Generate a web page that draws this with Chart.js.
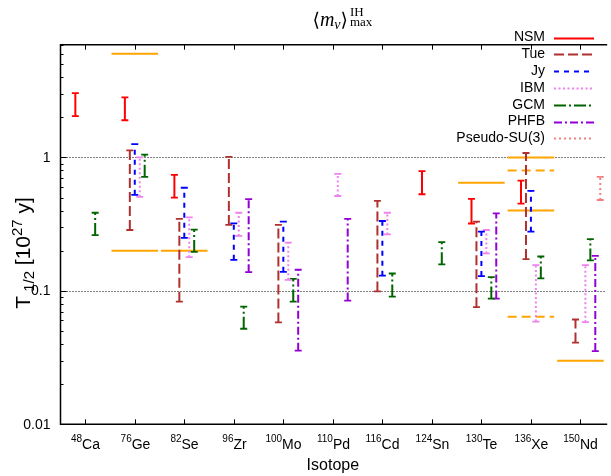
<!DOCTYPE html>
<html>
<head>
<meta charset="utf-8">
<script src="https://cdn.jsdelivr.net/npm/chart.js@4.4.1/dist/chart.umd.min.js"></script>
<style>
  html, body { margin: 0; padding: 0; background: #fff; }
  #wrap { width: 611px; height: 476px; position: relative; }
</style>
</head>
<body>
<div id="wrap"><canvas id="chart"></canvas></div>
<script>
// --- Data (half-life ranges in 10^27 y, [low, high], null = no value) ---
const isotopes = ["Ca", "Ge", "Se", "Zr", "Mo", "Pd", "Cd", "Sn", "Te", "Xe", "Nd"];
const massNumbers = ["48", "76", "82", "96", "100", "110", "116", "124", "130", "136", "150"];
const yTickValues = [0.01, 0.1, 1];
const yTickLabels = ["0.01", "0.1", "1"];

const nsm  = [[2.04, 3.04], [1.90, 2.82], [0.50, 0.74], null, null, null, null, [0.53, 0.79], [0.32, 0.49], [0.45, 0.67], null];
const tue  = [null, [0.286, 1.13], [0.083, 0.347], [0.312, 1.01], [0.058, 0.312], null, [0.099, 0.473], null, [0.0755, 0.33], [0.173, 1.08], [0.041, 0.061]];
const jy   = [null, [0.525, 1.26], [0.25, 0.593], [0.171, 0.321], [0.139, 0.33], null, [0.13, 0.334], null, [0.129, 0.278], [0.278, 0.562], null];
const ibm  = [null, [0.507, 1.0], [0.179, 0.356], [0.258, 0.385], [0.121, 0.23], [0.514, 0.754], [0.265, 0.385], null, [0.191, 0.286], [0.0589, 0.156], [0.0583, 0.156]];
const gcm  = [[0.262, 0.385], [0.716, 1.05], [0.196, 0.288], [0.052, 0.0763], [0.0832, 0.123], null, [0.0906, 0.135], [0.158, 0.232], [0.0875, 0.127], [0.124, 0.181], [0.169, 0.244]];
const phfb = [null, null, null, [0.138, 0.488], [0.0356, 0.144], [0.0846, 0.347], null, null, [0.0875, 0.381], null, [0.0354, 0.183]];
const psu3 = [null, null, null, null, null, null, null, null, null, null, [0.48, 0.716]];

// experimental limits (orange)
const limitSolidIso = ["Ge", "Ge", "Se", "Te", "Xe", "Xe", "Nd"];
const limitSolidVal = [6.0, 0.2, 0.2, 0.646, 1.0, 0.4, 0.03];
const limitDashIso = ["Xe", "Xe"];
const limitDashVal = [0.8, 0.064];

// --- Styles ---
const models = [
  { name: "NSM",          data: nsm,  color: "#ff0000", dash: [],             off: -0.2 },
  { name: "Tue",          data: tue,  color: "#b03030", dash: [10, 4],        off: -0.1 },
  { name: "Jy",           data: jy,   color: "#0000ff", dash: [5, 5],         off: 0 },
  { name: "IBM",          data: ibm,  color: "#ee82ee", dash: [2, 2.5],       off: 0.1 },
  { name: "GCM",          data: gcm,  color: "#006400", dash: [12, 3, 2, 3],  off: 0.2 },
  { name: "PHFB",         data: phfb, color: "#9400d3", dash: [8, 3, 2, 3],   off: 0.3 },
  { name: "Pseudo-SU(3)", data: psu3, color: "#f08080", dash: [2, 3],         off: 0.4 },
];
const ORANGE = "#ffa500";
const SANS = "'Liberation Sans', Arial, sans-serif";
const SERIF = "'Liberation Serif', 'DejaVu Serif', serif";

function barPoints(ranges, off) {
  const pts = [];
  ranges.forEach((r, i) => {
    if (!r) return;
    const x = i + 1 + off;
    pts.push({ x, y: r[0] }, { x, y: r[1] }, { x, y: null });
  });
  return pts;
}

function limitPoints(isos, vals) {
  const pts = [];
  isos.forEach((iso, k) => {
    const c = isotopes.indexOf(iso) + 1;
    pts.push({ x: c - 0.47, y: vals[k] }, { x: c + 0.47, y: vals[k] }, { x: c, y: null });
  });
  return pts;
}

const datasets = models.map((m) => ({
  label: m.name,
  data: barPoints(m.data, m.off),
  borderColor: m.color,
  borderWidth: 2,
  borderDash: m.dash,
  pointStyle: "line",
  pointRadius: 3.5,
  pointBorderColor: m.color,
  pointBorderWidth: 1.8,
  fill: false,
  spanGaps: false,
}));
datasets.push({
  label: "limit", data: limitPoints(limitSolidIso, limitSolidVal),
  borderColor: ORANGE, borderWidth: 2, pointRadius: 0, spanGaps: false,
});
datasets.push({
  label: "limit dashed", data: limitPoints(limitDashIso, limitDashVal),
  borderColor: ORANGE, borderWidth: 2, borderDash: [9, 5], pointRadius: 0, spanGaps: false,
});

// --- Helpers ---
function drawParts(ctx, parts, x, y, align) {
  let w = 0;
  parts.forEach((p) => { ctx.font = p[1]; w += ctx.measureText(p[0]).width; });
  let cx = align === "center" ? x - w / 2 : align === "right" ? x - w : x;
  ctx.textAlign = "left";
  parts.forEach((p) => {
    ctx.font = p[1];
    ctx.fillText(p[0], cx, y + (p[2] || 0));
    cx += ctx.measureText(p[0]).width;
  });
  return cx;
}

// gnuplot-like frame, ticks, labels, legend and title
const frame = {
  id: "frame",
  beforeDatasetsDraw(chart) {
    const { ctx, chartArea: a, scales: { y } } = chart;
    ctx.save();
    ctx.strokeStyle = "#000";
    ctx.lineWidth = 1;
    ctx.setLineDash([1, 2]);
    [1, 0.1].forEach((v) => {
      const py = Math.round(y.getPixelForValue(v)) + 0.5;
      ctx.beginPath(); ctx.moveTo(a.left, py); ctx.lineTo(a.right, py); ctx.stroke();
    });
    ctx.restore();
  },
  afterDraw(chart) {
    const { ctx, chartArea: a, scales: { x, y } } = chart;
    ctx.save();
    ctx.strokeStyle = "#000";
    ctx.fillStyle = "#000";
    ctx.lineWidth = 1.5;
    ctx.setLineDash([]);
    // border (right side is cut off in the reference)
    ctx.beginPath();
    ctx.moveTo(a.right + 2, a.top); ctx.lineTo(a.left, a.top);
    ctx.lineTo(a.left, a.bottom); ctx.lineTo(a.right + 2, a.bottom);
    ctx.stroke();

    // y ticks
    ctx.lineWidth = 1;
    [0.01, 0.1, 1].forEach((d) => {
      for (let k = 1; k <= 9; k++) {
        const v = k * d;
        if (v > 7) break;
        const py = Math.round(y.getPixelForValue(v)) + 0.5;
        const len = k === 1 ? 6 : 3;
        ctx.beginPath(); ctx.moveTo(a.left, py); ctx.lineTo(a.left + len, py); ctx.stroke();
      }
    });
    ctx.font = "14px " + SANS;
    ctx.textAlign = "right";
    ctx.textBaseline = "middle";
    yTickValues.forEach((v, i) => {
      ctx.fillText(yTickLabels[i], a.left - 10, y.getPixelForValue(v) + 0.5);
    });

    // x ticks + labels
    ctx.textBaseline = "alphabetic";
    isotopes.forEach((iso, i) => {
      const px = Math.round(x.getPixelForValue(i + 1)) + 0.5;
      ctx.beginPath();
      ctx.moveTo(px, a.bottom); ctx.lineTo(px, a.bottom - 5);
      ctx.moveTo(px, a.top); ctx.lineTo(px, a.top + 5);
      ctx.stroke();
      drawParts(ctx, [[massNumbers[i], "10px " + SANS, -7], [iso, "14px " + SANS, 0]], px, 449, "center");
    });

    // axis titles
    ctx.font = "16px " + SANS;
    ctx.textAlign = "center";
    ctx.textBaseline = "middle";
    ctx.fillText("Isotope", (a.left + a.right) / 2, 466);
    ctx.save();
    ctx.translate(23, 253);
    ctx.rotate(-Math.PI / 2);
    ctx.textBaseline = "alphabetic";
    drawParts(ctx, [
      ["T", "21px " + SANS, 0], [" 1/2", "15px " + SANS, 4],
      [" [10", "21px " + SANS, 0], ["27", "15px " + SANS, -8], [" y]", "21px " + SANS, 0],
    ], 0, 7, "center");
    ctx.restore();

    // legend
    models.forEach((m, k) => {
      const ly = 37.5 + k * 16.8;
      ctx.font = "14px " + SANS;
      ctx.fillStyle = "#000";
      ctx.textAlign = "right";
      ctx.textBaseline = "middle";
      ctx.fillText(m.name, 545, ly);
      ctx.strokeStyle = m.color;
      ctx.lineWidth = 2;
      ctx.setLineDash(m.dash);
      ctx.beginPath(); ctx.moveTo(554, Math.round(ly) + 0.5); ctx.lineTo(594, Math.round(ly) + 0.5); ctx.stroke();
    });
    ctx.setLineDash([]);

    // title <m_nu>^IH_max
    ctx.fillStyle = "#000";
    ctx.textBaseline = "alphabetic";
    const tx = drawParts(ctx, [
      ["\u27E8", "19px " + SERIF, 0], ["m", "italic 20px " + SERIF, 0],
      ["\u03BD", "italic 14px " + SERIF, 3], ["\u27E9", "19px " + SERIF, 0],
    ], 312.5, 25.5, "left");
    ctx.font = "13px " + SERIF;
    ctx.textAlign = "left";
    ctx.fillText("IH", tx + 2, 15.7);
    ctx.fillText("max", tx + 2, 26);
    ctx.restore();
  },
};

new Chart(document.getElementById("chart"), {
  type: "line",
  data: { datasets },
  options: {
    responsive: true,
    maintainAspectRatio: false,
    animation: false,
    events: [],
    layout: { padding: { left: 60.5, top: 44.7, right: 0, bottom: 51.7 } },
    scales: {
      x: { type: "linear", min: 0.5, max: 11.5, display: false },
      y: { type: "logarithmic", min: 0.01, max: 7, display: false },
    },
    plugins: { legend: { display: false }, tooltip: { enabled: false } },
  },
  plugins: [frame],
});
</script>
</body>
</html>
